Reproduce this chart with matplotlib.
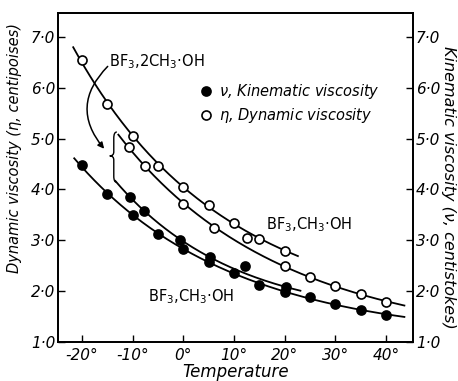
import numpy as np
import matplotlib
matplotlib.use("Agg")
import matplotlib.pyplot as plt
from matplotlib.lines import Line2D
from matplotlib.path import Path
from matplotlib.patches import PathPatch

# ---------------- data ----------------
# BF3,CH3·OH  dynamic viscosity (open circles, upper curve)
t_eta_1 = [-20, -15, -10, -5, 0, 5, 10, 15, 20]
eta_1 = [6.55, 5.68, 5.05, 4.46, 4.05, 3.70, 3.34, 3.03, 2.79]
eta_1_range = [-21.7, 22.6]

# BF3,CH3·OH  kinematic viscosity (filled circles, lower curve)
t_nu_1 = [-20, -15, -10, -5, 0, 5, 10, 15, 20, 25, 30, 35, 40]
nu_1 = [4.48, 3.91, 3.50, 3.12, 2.83, 2.57, 2.36, 2.12, 1.98, 1.89, 1.75, 1.63, 1.53]
nu_1_range = [-21.5, 43.6]

# BF3,2CH3·OH  dynamic viscosity (open circles)
t_eta_2 = [-10.7, -7.5, 0, 6, 20, 25, 30, 35, 40]
eta_2 = [4.84, 4.46, 3.71, 3.24, 2.50, 2.28, 2.10, 1.94, 1.79]
eta_2_outlier_t = [12.5]
eta_2_outlier = [3.05]
eta_2_range = [-12.8, 43.6]

# BF3,2CH3·OH  kinematic viscosity (filled circles)
t_nu_2 = [-10.5, -7.7, -0.6, 5.3, 20.3]
nu_2 = [3.85, 3.58, 3.01, 2.67, 2.08]
nu_2_outlier_t = [12.2]
nu_2_outlier = [2.50]
nu_2_range = [-13.4, 23.1]

x_ticks = [-20, -10, 0, 10, 20, 30, 40]
x_tick_labels = ["-20°", "-10°", "0°", "10°", "20°", "30°", "40°"]
y_ticks = [1, 2, 3, 4, 5, 6, 7]
y_tick_labels = ["1·0", "2·0", "3·0", "4·0", "5·0", "6·0", "7·0"]

# ---------------- figure ----------------
fig = plt.figure(figsize=(4.58, 3.81), dpi=100)
ax = fig.add_axes([58/458, 39/381, 355/458, 329/381])
ax.set_xlim(-24.7, 45.3)
ax.set_ylim(1.0, 7.47)

LW = 1.3
MS = 6.5


def smooth(t, v, rng):
    c = np.polyfit(np.asarray(t, float), np.log(np.asarray(v, float)), 2)
    xs = np.linspace(rng[0], rng[1], 200)
    return xs, np.exp(np.polyval(c, xs))


for t, v, rng, filled in [(t_eta_1, eta_1, eta_1_range, False),
                          (t_nu_1, nu_1, nu_1_range, True),
                          (t_eta_2, eta_2, eta_2_range, False),
                          (t_nu_2, nu_2, nu_2_range, True)]:
    xs, ys = smooth(t, v, rng)
    ax.plot(xs, ys, color="black", lw=LW, zorder=2)
    ax.plot(t, v, "o", ms=MS, mec="black", mew=1.2,
            mfc="black" if filled else "white", zorder=3)

ax.plot(eta_2_outlier_t, eta_2_outlier, "o", ms=MS, mec="black", mew=1.2,
        mfc="white", zorder=3)
ax.plot(nu_2_outlier_t, nu_2_outlier, "o", ms=MS, mec="black", mew=1.2,
        mfc="black", zorder=3)

# ---------------- annotations ----------------
ax.text(-14.6, 6.51, r"BF$_3$,2CH$_3$·OH", fontsize=10.5, ha="left", va="center")
ax.text(16.4, 3.30, r"BF$_3$,CH$_3$·OH", fontsize=10.5, ha="left", va="center")
ax.text(-6.9, 1.89, r"BF$_3$,CH$_3$·OH", fontsize=10.5, ha="left", va="center")

ax.annotate("", xy=(-15.6, 4.8), xytext=(-14.9, 6.42),
            arrowprops=dict(arrowstyle="-|>", color="black", lw=1.1,
                            mutation_scale=9,
                            connectionstyle="arc3,rad=0.45",
                            shrinkA=0, shrinkB=0))

# curly brace grouping the BF3,2CH3·OH curves
xr, xm, xt = -13.1, -13.7, -14.5
yt, yb, ym = 5.13, 4.14, 4.66
verts = [(xr, yt), (xm, yt), (xm, yt - 0.12),
         (xm, ym + 0.08),
         (xm, ym), (xt, ym),
         (xm, ym), (xm, ym - 0.08),
         (xm, yb + 0.12),
         (xm, yb), (xr, yb)]
codes = [Path.MOVETO, Path.CURVE3, Path.CURVE3,
         Path.LINETO,
         Path.CURVE3, Path.CURVE3,
         Path.CURVE3, Path.CURVE3,
         Path.LINETO,
         Path.CURVE3, Path.CURVE3]
ax.add_patch(PathPatch(Path(verts, codes), fc="none", ec="black", lw=1.0))

# legend
handles = [Line2D([], [], ls="none", marker="o", ms=MS, mfc="black", mec="black", mew=1.2),
           Line2D([], [], ls="none", marker="o", ms=MS, mfc="white", mec="black", mew=1.2)]
leg = ax.legend(handles, [r"$\nu$, Kinematic viscosity", r"$\eta$, Dynamic viscosity"],
                loc="upper left", bbox_to_anchor=(0.40, 0.79), frameon=False,
                borderaxespad=0, borderpad=0, handlelength=0.8, handletextpad=0.5,
                labelspacing=0.35, prop=dict(size=10.5, style="italic"))

# ---------------- axes styling ----------------
ax.set_xticks(x_ticks)
ax.set_xticklabels(x_tick_labels, fontsize=11, fontstyle="italic")
ax.set_yticks(y_ticks)
ax.set_yticklabels(y_tick_labels, fontsize=11, fontstyle="italic")
ax.tick_params(direction="in", length=5, width=1.0, pad=2)
ax.tick_params(axis="x", pad=4)
for s in ax.spines.values():
    s.set_linewidth(1.3)

ax.set_xlabel("Temperature", fontsize=12, fontstyle="italic", labelpad=0)
ax.set_ylabel("Dynamic viscosity (η, centipoises)", fontsize=10.5, fontstyle="italic")
ax.yaxis.set_label_coords(-0.10, 0.59)

ax2 = ax.twinx()
ax2.set_ylim(ax.get_ylim())
ax2.set_yticks(y_ticks)
ax2.set_yticklabels(y_tick_labels, fontsize=11, fontstyle="italic")
ax2.tick_params(direction="in", length=5, width=1.0, pad=2)
ax2.set_ylabel("Kinematic viscosity (ν, centistokes)", fontsize=11.5,
               fontstyle="italic", rotation=-90, va="bottom")
ax2.yaxis.set_label_coords(1.078, 0.47)
for s in ax2.spines.values():
    s.set_linewidth(1.3)

fig.savefig("out.png", dpi=100)
